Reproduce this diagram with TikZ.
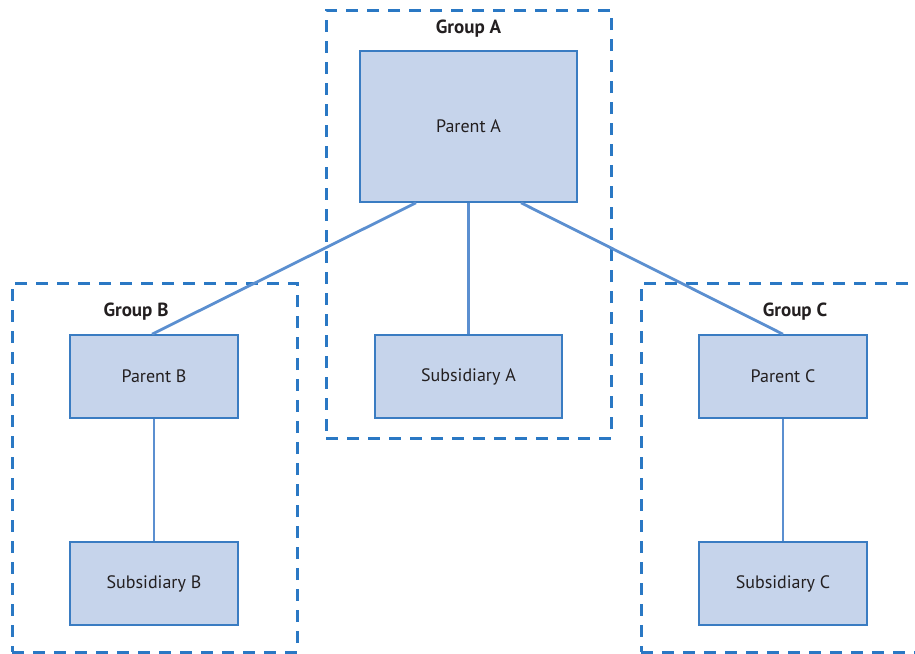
\documentclass[tikz,border=0pt]{standalone}
\usepackage{fontspec}
\setmainfont{PT Sans}
\definecolor{boxfill}{HTML}{C6D4EB}
\definecolor{boxline}{HTML}{3A7CC2}
\definecolor{conline}{HTML}{5B8FD0}
\definecolor{grpline}{HTML}{2A78C4}
\definecolor{txt}{HTML}{231F20}
\begin{document}
\begin{tikzpicture}[x=1pt,y=-1pt,
  entity/.style={draw=boxline,fill=boxfill,line width=1.6pt,inner sep=0pt,
    font=\fontsize{18}{21}\selectfont,text=txt},
  group/.style={draw=grpline,line width=3pt,dash pattern=on 12pt off 9pt,inner sep=0pt},
  grplabel/.style={font=\bfseries\fontsize{19}{22}\selectfont,text=txt},
  conn/.style={draw=conline,line width=2.8pt}]
\useasboundingbox (0,0) rectangle (915,653);
% groups
\node[group,minimum width=285pt,minimum height=428pt] (ga) at (468.5,224) {};
\node[group,minimum width=285pt,minimum height=369pt] (gb) at (154.5,467.5) {};
\node[group,minimum width=285pt,minimum height=369pt] (gc) at (783.5,467.5) {};
\node[grplabel] (gal) at (468.5,28.5) {Group A};
\node[grplabel] (gbl) at (136,311.5) {Group B};
\node[grplabel] (gcl) at (795,311.5) {Group C};
% entities
\node[entity,minimum width=217pt,minimum height=151pt] (pa) at (468.5,126.5) {Parent A};
\node[entity,minimum width=187pt,minimum height=83pt] (sa) at (468.5,376.5) {Subsidiary A};
\node[entity,minimum width=168pt,minimum height=83pt] (pb) at (154,376.5) {Parent B};
\node[entity,minimum width=168pt,minimum height=83pt] (sb) at (154,583.5) {Subsidiary B};
\node[entity,minimum width=168pt,minimum height=83pt] (pc) at (783,376.5) {Parent C};
\node[entity,minimum width=168pt,minimum height=83pt] (sc) at (783,583.5) {Subsidiary C};
% connectors
\draw[conn] ([xshift=-52.5pt]pa.south) -- ([xshift=-2pt]pb.north);
\draw[conn] (pa.south) -- (sa.north);
\draw[conn] ([xshift=52.5pt]pa.south) -- (pc.north);
\draw[conn] (pb.south) -- (sb.north);
\draw[conn] (pc.south) -- (sc.north);
\end{tikzpicture}
\end{document}
